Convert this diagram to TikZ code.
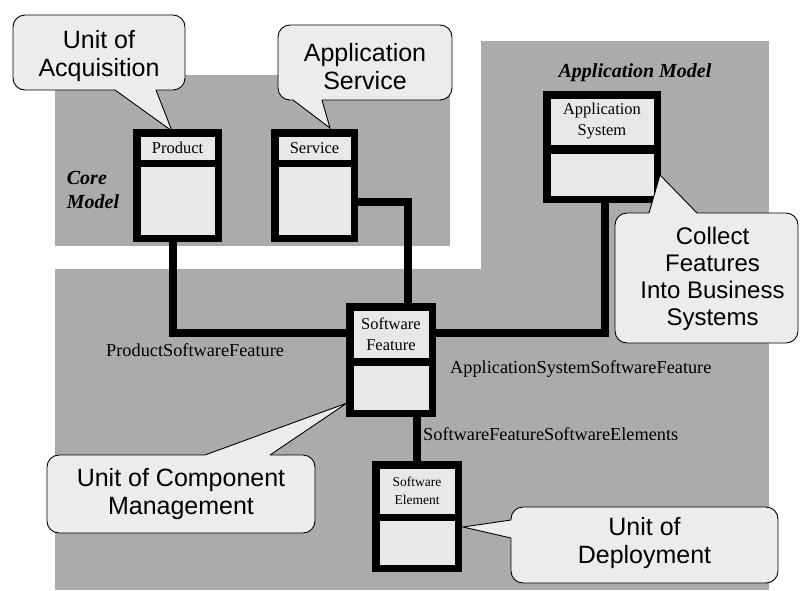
\documentclass[tikz,border=0pt]{standalone}
\usepackage{fontspec}
\setmainfont{Liberation Serif}
\newfontfamily\bubfont{Liberation Sans}
\definecolor{bggray}{HTML}{ABABAB}
\definecolor{lightfill}{HTML}{ECECEC}
\definecolor{compfill}{HTML}{E8E8E8}
\newcommand{\umlclass}[9]{%
  \node[outerbox, minimum width=#4pt, minimum height=#5pt] (#1) at (#2,#3) {};
  \node[comp, font=#9, minimum width=#4pt-15pt, minimum height=#6pt, anchor=north] (#1-name) at ([yshift=-7.5pt]#1.north) {#8};
  \node[comp, minimum width=#4pt-15pt, minimum height=#7pt, anchor=south] (#1-body) at ([yshift=7.5pt]#1.south) {};
}
\newcommand{\bubptr}[3]{%
  \fill[lightfill] (#1) -- (#2) -- (#3) -- cycle;
  \draw[lightfill, line width=2.6pt] (#1) -- (#3);
  \draw[black, line width=0.9pt, line join=miter] (#1) -- (#2) -- (#3);
}
\begin{document}
\begin{tikzpicture}[x=1pt,y=-1pt,
  region/.style={fill=bggray, draw=none},
  outerbox/.style={fill=black, draw=none, inner sep=0pt},
  comp/.style={fill=compfill, draw=none, inner sep=0pt, align=center},
  conn/.style={line width=8pt, draw=black},
  bubble/.style={draw=black, fill=lightfill, line width=0.9pt, rounded corners=12pt, inner sep=0pt},
  bubtext/.style={inner sep=0pt, align=center, font=\bubfont\fontsize{25}{28}\selectfont},
  assoc/.style={inner sep=0pt, font=\fontsize{18.3}{20}\selectfont},
  modeltitle/.style={inner sep=0pt, font=\fontsize{20}{24}\selectfont\bfseries\itshape, align=left},
]
\useasboundingbox (0,0) rectangle (800,590);
% background regions
\fill[region] (55,75) rectangle (450,246);
\fill[region] (481,41) rectangle (769,590);
\fill[region] (55,269) rectangle (769,590);

% model titles
\node[modeltitle] (coretitle) at (93,190) {Core\\Model};
\node[modeltitle, anchor=base] (apptitle) at (635,77) {Application Model};

% classes
\umlclass{prod}{177.5}{185.5}{89}{113}{23}{68}{Product}{\fontsize{16.5}{21}\selectfont}
\umlclass{serv}{314.5}{185.5}{87}{113}{23}{68}{Service}{\fontsize{16.5}{21}\selectfont}
\umlclass{app}{602}{147}{118}{112}{46}{42}{Application\\System}{\fontsize{16.5}{21}\selectfont}
\umlclass{sf}{391}{360}{90}{114}{47}{44}{Software\\Feature}{\fontsize{16.5}{21}\selectfont}
\umlclass{se}{417}{516.5}{90}{111}{45}{44}{Software\\Element}{\fontsize{13.5}{18}\selectfont}

% connectors
\draw[conn] ([xshift=-4.5pt]prod.south) |- ([yshift=27pt]sf.west);
\draw[conn] ([yshift=-16.5pt]serv.east) -| ([xshift=17pt]sf.north);
\draw[conn] ([yshift=27pt]sf.east) -| ([xshift=3pt]app.south);
\draw[conn] (se.north) -- (se.north |- sf.south);

% association labels
\node[assoc, anchor=base west] (lpsf) at (106,356) {ProductSoftwareFeature};
\node[assoc, anchor=base west] (lassf) at (450,373) {ApplicationSystemSoftwareFeature};
\node[assoc, anchor=base west] (lsfse) at (423,440) {SoftwareFeatureSoftwareElements};

% callouts
\node[bubble, minimum width=172pt, minimum height=75pt] (acq) at (99,52.5) {};
\bubptr{115,90}{172,131}{156,90}
\node[bubtext] (acq-t) at ([yshift=-4pt]acq.center) {Unit of\\Acquisition};
\node[bubble, minimum width=174pt, minimum height=75pt] (asv) at (365,62.5) {};
\bubptr{293,100}{330,128}{322,100}
\node[bubtext] (asv-t) at ([yshift=-4pt]asv.center) {Application\\Service};
\node[bubble, minimum width=183pt, minimum height=130pt] (col) at (706.5,278) {};
\bubptr{649,213}{660,175}{697,213}
\node[bubtext, font=\bubfont\fontsize{24}{27}\selectfont] (col-t) at ([xshift=6pt, yshift=-1pt]col.center) {Collect\\Features\\Into Business\\Systems};
\node[bubble, minimum width=268pt, minimum height=78pt] (ucm) at (181,494) {};
\bubptr{205,455}{347,403}{270,455}
\node[bubtext] (ucm-t) at (ucm.center) {Unit of Component\\Management};
\node[bubble, minimum width=267pt, minimum height=76pt] (dep) at (644.5,545) {};
\bubptr{511,520}{463,527}{511,538}
\node[bubtext] (dep-t) at ([yshift=2pt]dep.center) {Unit of\\Deployment};
\end{tikzpicture}
\end{document}
